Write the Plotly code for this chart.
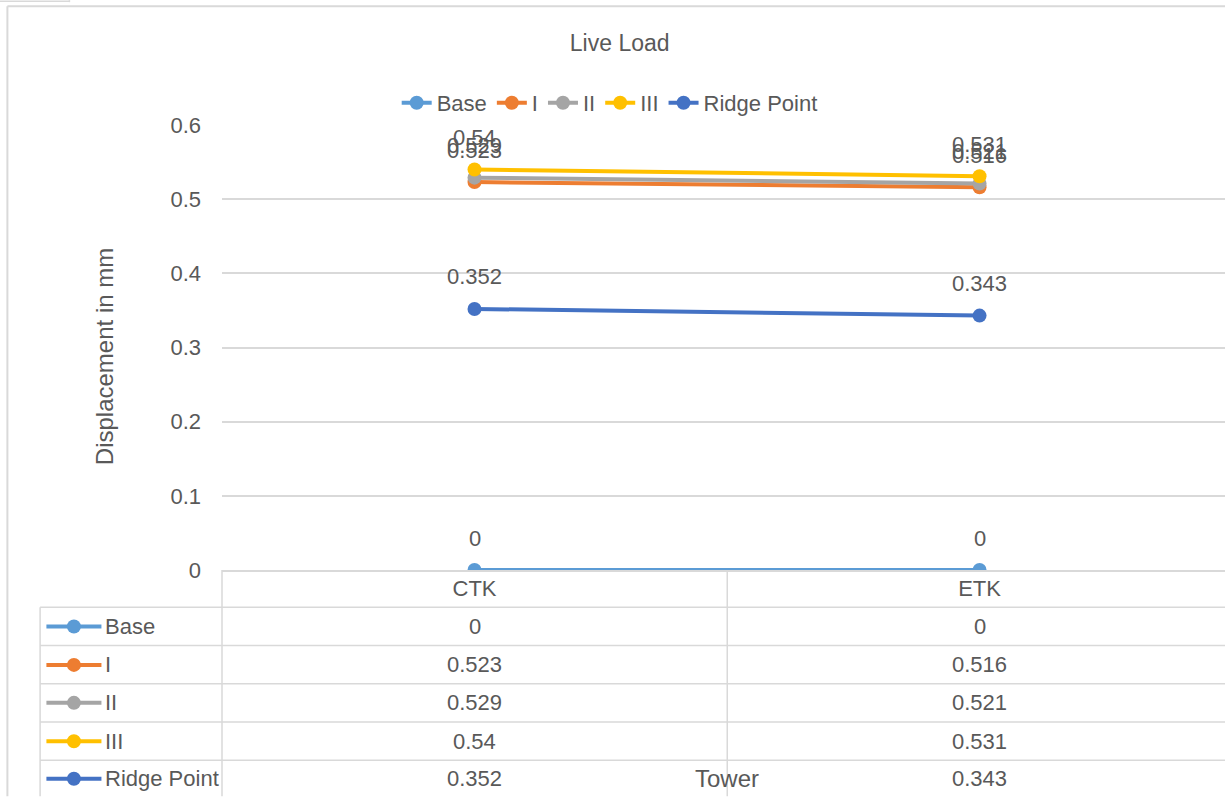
import plotly.graph_objects as go

# ---- data ----
categories = ["CTK", "ETK"]
series_names = ["Base", "I", "II", "III", "Ridge Point"]
base = [0, 0]
s1 = [0.523, 0.516]
s2 = [0.529, 0.521]
s3 = [0.54, 0.531]
ridge = [0.352, 0.343]
series_values = [base, s1, s2, s3, ridge]
colors = ["#5B9BD5", "#ED7D31", "#A5A5A5", "#FFC000", "#4472C4"]
y_ticks = [0, 0.1, 0.2, 0.3, 0.4, 0.5, 0.6]

FONT = "Liberation Sans, Arial"
TXT = "#595959"
GRID = "#D9D9D9"
FS = 22

W, H = 1225, 797
L, R, T, B = 222.5, 1225, 125, 570.5   # plot-area edges in pixels


def px(xp):
    return (xp - L) / (R - L)


def py(yp):
    return (B - yp) / (B - T)


fig = go.Figure()
for name, vals, col in zip(series_names, series_values, colors):
    fig.add_trace(go.Scatter(
        x=categories, y=vals, name=name, mode="lines+markers",
        line=dict(color=col, width=4), marker=dict(color=col, size=14),
    ))

annotations = []
shapes = []

# data labels
for vals in series_values:
    for c, v in zip(categories, vals):
        annotations.append(dict(x=c, y=v, xref="x", yref="y", text=str(v),
                                showarrow=False, yshift=32,
                                xanchor="center", yanchor="middle",
                                font=dict(family=FONT, size=FS, color=TXT)))

# data table
row_lines = [607.7, 646, 684.3, 722.6, 761]
row_centers = [627, 665.5, 703.5, 742, 779.5]
for yl in row_lines:
    shapes.append(dict(type="line", xref="paper", yref="paper",
                       x0=px(40.7), x1=px(1225), y0=py(yl), y1=py(yl),
                       line=dict(color=GRID, width=1.5)))
shapes.append(dict(type="line", xref="paper", yref="paper",
                   x0=px(40.7), x1=px(40.7), y0=py(607.7), y1=py(797),
                   line=dict(color=GRID, width=1.5)))
for xv in [222.5, 727.5]:
    shapes.append(dict(type="line", xref="paper", yref="paper",
                       x0=px(xv), x1=px(xv), y0=py(570.5), y1=py(797),
                       line=dict(color=GRID, width=1.5)))

for name, vals, col, yc in zip(series_names, series_values, colors, row_centers):
    shapes.append(dict(type="line", xref="paper", yref="paper",
                       x0=px(47), x1=px(102), y0=py(yc), y1=py(yc),
                       line=dict(color=col, width=4)))
    shapes.append(dict(type="circle", xref="paper", yref="paper",
                       x0=px(67.5), x1=px(81.5), y0=py(yc - 7), y1=py(yc + 7),
                       fillcolor=col, line=dict(color=col, width=0)))
    annotations.append(dict(x=px(104), y=py(yc), xref="paper", yref="paper",
                            xanchor="left", yanchor="middle", text=name,
                            showarrow=False,
                            font=dict(family=FONT, size=FS, color=TXT)))
    for c, v in zip(categories, vals):
        annotations.append(dict(x=c, y=py(yc), xref="x", yref="paper",
                                xanchor="center", yanchor="middle", text=str(v),
                                showarrow=False,
                                font=dict(family=FONT, size=FS, color=TXT)))

# chart border and the small tab at the top-left corner
shapes.append(dict(type="line", xref="paper", yref="paper",
                   x0=px(8), x1=px(1225), y0=py(6), y1=py(6),
                   line=dict(color=GRID, width=2)))
shapes.append(dict(type="line", xref="paper", yref="paper",
                   x0=px(8), x1=px(8), y0=py(6), y1=py(797),
                   line=dict(color=GRID, width=2)))
shapes.append(dict(type="line", xref="paper", yref="paper",
                   x0=px(0), x1=px(70), y0=py(1), y1=py(1),
                   line=dict(color=GRID, width=1.5)))
shapes.append(dict(type="line", xref="paper", yref="paper",
                   x0=px(70), x1=px(70), y0=py(0), y1=py(2),
                   line=dict(color=GRID, width=1.5)))

# axis titles
annotations.append(dict(x=px(105), y=py(357), xref="paper", yref="paper",
                        xanchor="center", yanchor="middle",
                        text="Displacement in mm", textangle=-90, showarrow=False,
                        font=dict(family=FONT, size=24, color=TXT)))
annotations.append(dict(x=px(727), y=py(779), xref="paper", yref="paper",
                        xanchor="center", yanchor="middle",
                        text="Tower", showarrow=False,
                        font=dict(family=FONT, size=24, color=TXT)))

fig.update_layout(
    width=W, height=H,
    margin=dict(l=222, r=0, t=125, b=227, pad=0),
    paper_bgcolor="white", plot_bgcolor="white",
    font=dict(family=FONT, size=FS, color=TXT),
    title=dict(text="Live Load", x=px(620), xref="paper", xanchor="center",
               y=1 - 43 / H, yanchor="middle", yref="container",
               font=dict(family=FONT, size=23, color=TXT)),
    showlegend=True,
    legend=dict(orientation="h", x=px(610), xanchor="center", y=py(103),
                yanchor="middle", font=dict(family=FONT, size=FS, color=TXT),
                itemwidth=30, bgcolor="rgba(0,0,0,0)"),
    xaxis=dict(type="category", range=[-0.5, 1.486], showgrid=False,
               zeroline=False, showline=True, linecolor=GRID, linewidth=1.5,
               ticks="", tickfont=dict(family=FONT, size=FS, color=TXT),
               ticklabelstandoff=-2),
    yaxis=dict(range=[0, 0.6], tickvals=y_ticks, showgrid=True, gridcolor=GRID,
               gridwidth=1.5, zeroline=False, showline=False, ticks="",
               tickfont=dict(family=FONT, size=FS, color=TXT),
               ticklabelstandoff=20),
    annotations=annotations, shapes=shapes,
)
fig.write_html(
    "out.html",
    config={"displayModeBar": False},
    post_script="document.body.style.margin='0';document.body.style.overflow='hidden';",
)
